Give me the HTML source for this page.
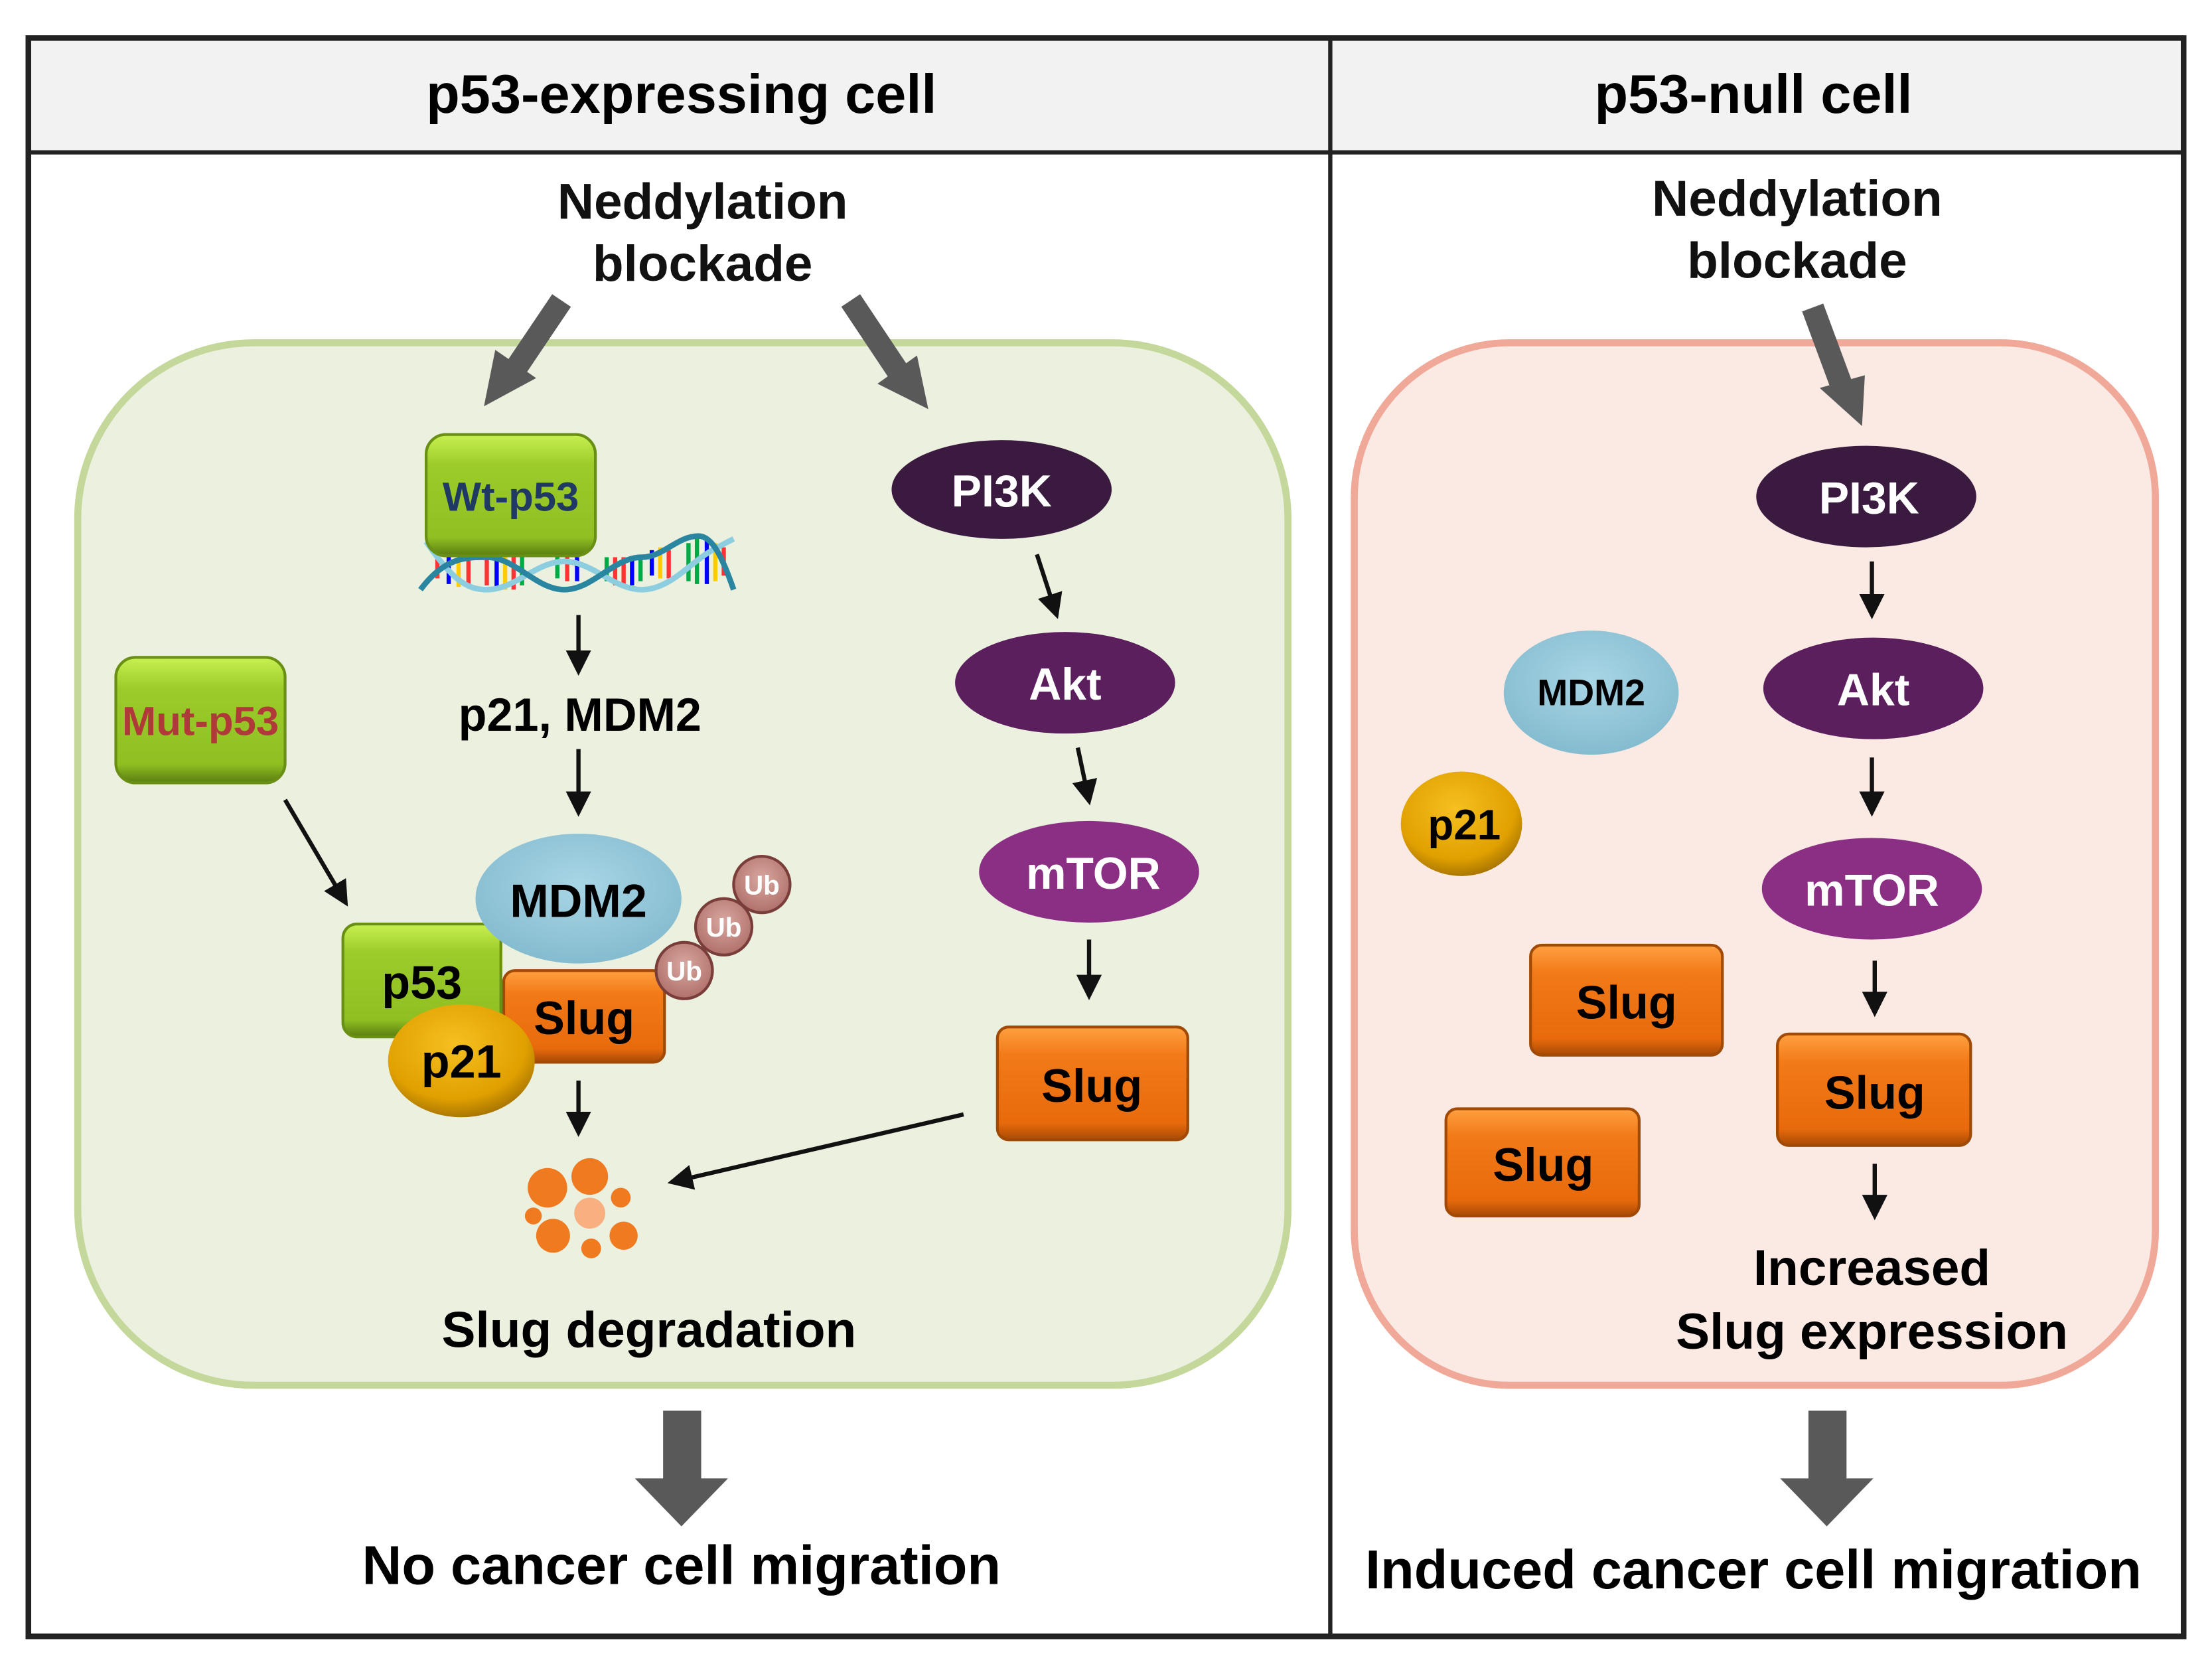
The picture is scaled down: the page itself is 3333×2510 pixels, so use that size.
<!DOCTYPE html>
<html><head><meta charset="utf-8"><style>
html,body{margin:0;padding:0;background:#fff;}
svg{display:block;}
text{font-family:"Liberation Sans",Arial,sans-serif;font-weight:bold;}
</style></head><body>
<svg width="3333" height="2510" viewBox="0 0 1568 1181" xmlns="http://www.w3.org/2000/svg">
<defs>
<linearGradient id="grn" x1="0" y1="0" x2="0" y2="1"><stop offset="0" stop-color="#c8f050"/><stop offset="0.25" stop-color="#9ccc2a"/><stop offset="0.85" stop-color="#8fbf22"/><stop offset="1" stop-color="#5a7d10"/></linearGradient>
<linearGradient id="org" x1="0" y1="0" x2="0" y2="1"><stop offset="0" stop-color="#ffa040"/><stop offset="0.25" stop-color="#f27a18"/><stop offset="0.85" stop-color="#e86a0c"/><stop offset="1" stop-color="#a84a05"/></linearGradient>
<radialGradient id="gold" cx="0.45" cy="0.35" r="0.7"><stop offset="0" stop-color="#f5c020"/><stop offset="0.7" stop-color="#e0a000"/><stop offset="1" stop-color="#9a6a00"/></radialGradient>
<radialGradient id="blu" cx="0.5" cy="0.4" r="0.7"><stop offset="0" stop-color="#a8d6e6"/><stop offset="1" stop-color="#7fb7cb"/></radialGradient>
<radialGradient id="ub" cx="0.5" cy="0.4" r="0.6"><stop offset="0" stop-color="#d8a8a0"/><stop offset="1" stop-color="#b0706a"/></radialGradient>
<marker id="ah" markerWidth="6" markerHeight="6" refX="5" refY="3" orient="auto" markerUnits="strokeWidth"><path d="M0,0 L6,3 L0,6 z" fill="#111"/></marker>
</defs>
<rect x="20" y="27" width="1528" height="1133" fill="#fff" stroke="#222" stroke-width="4"/>
<rect x="22" y="29" width="1524" height="79" fill="#f2f2f2"/>
<line x1="20" y1="108" x2="1548" y2="108" stroke="#222" stroke-width="3"/>
<line x1="943" y1="27" x2="943" y2="1160" stroke="#222" stroke-width="3"/>
<text x="483" y="80" font-size="39" text-anchor="middle">p53-expressing cell</text>
<text x="1243" y="80" font-size="39" text-anchor="middle">p53-null cell</text>

<rect x="55" y="243" width="858" height="739" rx="125" fill="#ebf0df" stroke="#c3d89a" stroke-width="5"/>
<rect x="960" y="243" width="568" height="739" rx="110" fill="#fbe9e4" stroke="#f0a898" stroke-width="5"/>

<g font-size="36" text-anchor="middle" fill="#111">
<text x="498" y="155">Neddylation</text><text x="498" y="199">blockade</text>
<text x="1274" y="153">Neddylation</text><text x="1274" y="197">blockade</text>
</g>
<g stroke="#595959" stroke-width="16" fill="#595959">
<line x1="398" y1="213" x2="365" y2="262"/><line x1="603" y1="213" x2="637" y2="264"/><line x1="1285" y1="218" x2="1305" y2="272"/>
</g>
<polygon points="343,288 351,248 380,268" fill="#595959"/>
<polygon points="658,290 622,272 650,252" fill="#595959"/>
<polygon points="1320,302 1290,275 1322,266" fill="#595959"/>

<!-- DNA -->
<g>
<g stroke-width="3">
<line x1="310" y1="396" x2="310" y2="410" stroke="#f33"/><line x1="318" y1="394" x2="318" y2="414" stroke="#00f"/><line x1="325" y1="394" x2="325" y2="416" stroke="#fc0"/><line x1="332" y1="394" x2="332" y2="416" stroke="#f33"/>
<line x1="345" y1="395" x2="345" y2="415" stroke="#f33"/><line x1="352" y1="395" x2="352" y2="418" stroke="#00f"/><line x1="358" y1="395" x2="358" y2="418" stroke="#fc0"/><line x1="364" y1="395" x2="364" y2="418" stroke="#f33"/><line x1="370" y1="395" x2="370" y2="415" stroke="#0a4"/>
<line x1="395" y1="395" x2="395" y2="410" stroke="#0a4"/><line x1="402" y1="395" x2="402" y2="412" stroke="#f33"/><line x1="409" y1="395" x2="409" y2="412" stroke="#00f"/>
<line x1="430" y1="395" x2="430" y2="412" stroke="#0a4"/><line x1="436" y1="395" x2="436" y2="415" stroke="#f33"/><line x1="442" y1="395" x2="442" y2="415" stroke="#f33"/><line x1="448" y1="395" x2="448" y2="415" stroke="#00f"/><line x1="454" y1="395" x2="454" y2="412" stroke="#0a4"/>
<line x1="462" y1="390" x2="462" y2="408" stroke="#00f"/><line x1="468" y1="388" x2="468" y2="410" stroke="#fc0"/><line x1="474" y1="390" x2="474" y2="410" stroke="#f33"/>
<line x1="488" y1="385" x2="488" y2="412" stroke="#0a4"/><line x1="494" y1="382" x2="494" y2="414" stroke="#0a4"/><line x1="501" y1="382" x2="501" y2="414" stroke="#00f"/><line x1="507" y1="385" x2="507" y2="412" stroke="#fc0"/><line x1="513" y1="388" x2="513" y2="408" stroke="#f33"/>
</g>
<path d="M302,384 C320,410 330,418 345,418 C365,418 380,398 400,398 C420,398 435,418 455,418 C475,418 490,398 505,390 C512,386 516,384 520,382" fill="none" stroke="#8ccde0" stroke-width="4"/>
<path d="M298,418 C315,395 330,395 345,395 C365,395 380,418 400,418 C420,418 435,395 455,395 C470,395 480,380 495,380 C505,380 512,395 520,418" fill="none" stroke="#2a86a0" stroke-width="4"/>
</g>

<rect x="302" y="308" width="120" height="86" rx="14" fill="url(#grn)" stroke="#6a8f15" stroke-width="2"/>
<text x="362" y="362" font-size="29" text-anchor="middle" fill="#1f3864">Wt-p53</text>
<rect x="82" y="466" width="120" height="89" rx="14" fill="url(#grn)" stroke="#6a8f15" stroke-width="2"/>
<text x="142" y="521" font-size="29" text-anchor="middle" fill="#b03a3a">Mut-p53</text>

<g stroke="#111" stroke-width="3" fill="none" marker-end="url(#ah)">
<line x1="410" y1="436" x2="410" y2="476"/>
<line x1="410" y1="531" x2="410" y2="576"/>
<line x1="202" y1="567" x2="245" y2="640"/>
<line x1="410" y1="766" x2="410" y2="803"/>
<line x1="735" y1="393" x2="749" y2="436"/>
<line x1="764" y1="530" x2="772" y2="568"/>
<line x1="772" y1="666" x2="772" y2="706"/>
<line x1="683" y1="790" x2="476" y2="838"/>
<line x1="1327" y1="398" x2="1327" y2="436"/>
<line x1="1327" y1="537" x2="1327" y2="576"/>
<line x1="1329" y1="681" x2="1329" y2="718"/>
<line x1="1329" y1="825" x2="1329" y2="862"/>
</g>
<text x="411" y="518" font-size="33" text-anchor="middle">p21, MDM2</text>

<rect x="243" y="655" width="112" height="80" rx="10" fill="url(#grn)" stroke="#6a8f15" stroke-width="2"/>
<text x="299" y="708" font-size="33" text-anchor="middle">p53</text>
<ellipse cx="410" cy="637" rx="73" ry="46" fill="url(#blu)"/>
<text x="410" y="650" font-size="33" text-anchor="middle">MDM2</text>
<rect x="357" y="688" width="114" height="65" rx="8" fill="url(#org)" stroke="#a04a05" stroke-width="2"/>
<text x="414" y="733" font-size="33" text-anchor="middle">Slug</text>
<ellipse cx="327" cy="752" rx="52" ry="40" fill="url(#gold)"/>
<text x="327" y="764" font-size="33" text-anchor="middle">p21</text>
<g font-size="19" text-anchor="middle" fill="#fff" font-weight="bold">
<circle cx="540" cy="627" r="20" fill="url(#ub)" stroke="#7a3e3a" stroke-width="2"/><text x="540" y="634">Ub</text>
<circle cx="513" cy="657" r="20" fill="url(#ub)" stroke="#7a3e3a" stroke-width="2"/><text x="513" y="664">Ub</text>
<circle cx="485" cy="688" r="20" fill="url(#ub)" stroke="#7a3e3a" stroke-width="2"/><text x="485" y="695">Ub</text>
</g>
<g fill="#f07a20">
<circle cx="388" cy="842" r="14"/><circle cx="418" cy="834" r="13"/><circle cx="392" cy="876" r="12"/><circle cx="418" cy="860" r="11" fill="#f8b080"/><circle cx="440" cy="849" r="7"/><circle cx="442" cy="876" r="10"/><circle cx="419" cy="885" r="7"/><circle cx="378" cy="862" r="6"/>
</g>
<text x="460" y="955" font-size="36" text-anchor="middle">Slug degradation</text>

<ellipse cx="710" cy="347" rx="78" ry="35" fill="#3a1a3f"/><text x="710" y="359" font-size="32" fill="#fff" text-anchor="middle">PI3K</text>
<ellipse cx="755" cy="484" rx="78" ry="36" fill="#5b1f5e"/><text x="755" y="496" font-size="32" fill="#fff" text-anchor="middle">Akt</text>
<ellipse cx="772" cy="618" rx="78" ry="36" fill="#8b2f84"/><text x="775" y="630" font-size="32" fill="#fff" text-anchor="middle">mTOR</text>
<rect x="707" y="728" width="135" height="80" rx="8" fill="url(#org)" stroke="#a04a05" stroke-width="2"/><text x="774" y="781" font-size="33" text-anchor="middle">Slug</text>

<ellipse cx="1323" cy="352" rx="78" ry="36" fill="#3a1a3f"/><text x="1325" y="364" font-size="32" fill="#fff" text-anchor="middle">PI3K</text>
<ellipse cx="1328" cy="488" rx="78" ry="36" fill="#5b1f5e"/><text x="1328" y="500" font-size="32" fill="#fff" text-anchor="middle">Akt</text>
<ellipse cx="1327" cy="630" rx="78" ry="36" fill="#8b2f84"/><text x="1327" y="642" font-size="32" fill="#fff" text-anchor="middle">mTOR</text>
<rect x="1260" y="733" width="137" height="79" rx="8" fill="url(#org)" stroke="#a04a05" stroke-width="2"/><text x="1329" y="786" font-size="33" text-anchor="middle">Slug</text>
<ellipse cx="1128" cy="491" rx="62" ry="44" fill="url(#blu)"/><text x="1128" y="500" font-size="26" text-anchor="middle">MDM2</text>
<ellipse cx="1036" cy="584" rx="43" ry="37" fill="url(#gold)"/><text x="1038" y="595" font-size="30" text-anchor="middle">p21</text>
<rect x="1085" y="670" width="136" height="78" rx="8" fill="url(#org)" stroke="#a04a05" stroke-width="2"/><text x="1153" y="722" font-size="33" text-anchor="middle">Slug</text>
<rect x="1025" y="786" width="137" height="76" rx="8" fill="url(#org)" stroke="#a04a05" stroke-width="2"/><text x="1094" y="837" font-size="33" text-anchor="middle">Slug</text>
<text x="1327" y="911" font-size="36" text-anchor="middle">Increased</text>
<text x="1327" y="956" font-size="36" text-anchor="middle">Slug expression</text>

<polygon points="470,1000 497,1000 497,1048 516,1048 483,1082 450,1048 470,1048" fill="#595959"/>
<polygon points="1282,1000 1309,1000 1309,1048 1328,1048 1295,1082 1262,1048 1282,1048" fill="#595959"/>
<text x="483" y="1123" font-size="39" text-anchor="middle">No cancer cell migration</text>
<text x="1243" y="1126" font-size="39" text-anchor="middle">Induced cancer cell migration</text>
</svg>
</body></html>
